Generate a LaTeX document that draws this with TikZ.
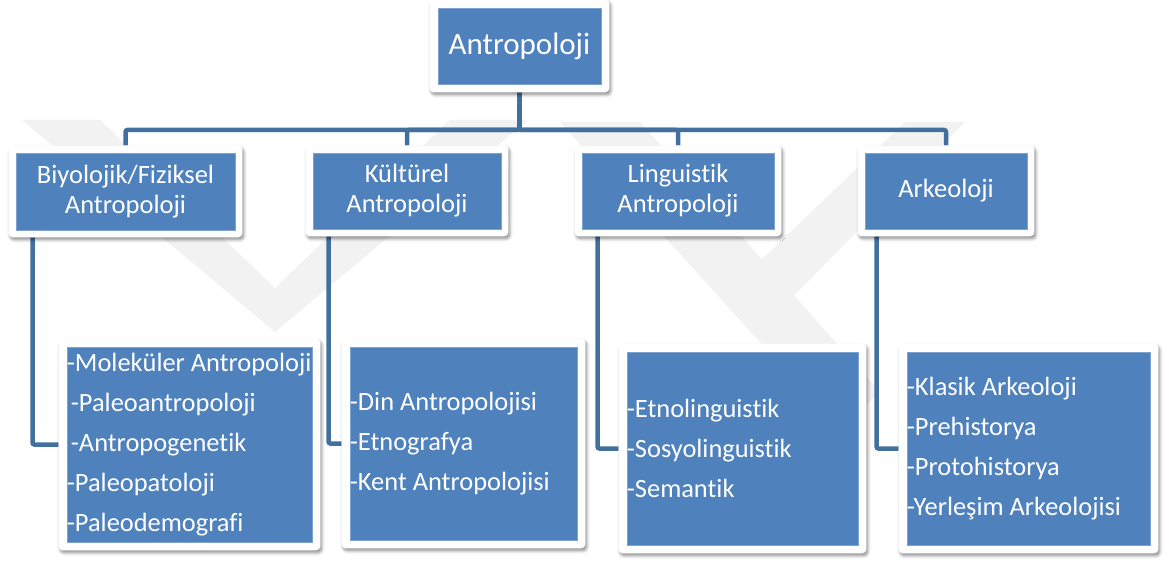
\documentclass[tikz,border=0pt]{standalone}
\usepackage{fontspec}
\setmainfont{Carlito}[Ligatures={NoCommon}]
\usetikzlibrary{positioning,fit,shadows.blur}
\definecolor{boxblue}{HTML}{4F81BD}
\definecolor{boxedge}{HTML}{7FA3D0}
\definecolor{linkblue}{HTML}{41709E}
\definecolor{markgray}{HTML}{F2F2F2}
\pgfdeclarelayer{mark}
\pgfdeclarelayer{links}
\pgfdeclarelayer{frames}
\pgfsetlayers{mark,links,frames,main}
\tikzset{
    box/.style={fill=boxblue, draw=boxedge, line width=0.6pt, text=white, inner sep=0pt, align=center},
    subfont/.style={font=\fontsize{26.5}{30}\selectfont},
    boxframe/.style={fill=white, rounded corners=4pt, inner sep=#1,
        blur shadow={shadow xshift=1.5pt, shadow yshift=-2.5pt, shadow blur steps=6,
            shadow blur radius=3pt, shadow opacity=45}},
    boxframe/.default=8pt,
    link/.style={draw=linkblue, line width=4.5pt, rounded corners=2pt},
    items/.style={text=white, align=left, inner sep=0pt, anchor=west,
        font=\fontsize{26.4}{40}\selectfont},
}

\begin{document}
\begin{tikzpicture}[x=1pt, y=-1pt]
\useasboundingbox (0,0) rectangle (1166,561);

% top
\node[box, minimum width=163pt, minimum height=76pt, font=\fontsize{31}{36}\selectfont]
    (antr) at (519.5,46) {Antropoloji};

% second row
\node[box, subfont, minimum width=219pt, minimum height=77pt] (biyo) at (125.5,191.5) {Biyolojik/Fiziksel\\Antropoloji};
\node[box, subfont, minimum width=188pt, minimum height=76pt] (kult) at (407,191) {Kültürel\\Antropoloji};
\node[box, subfont, minimum width=192pt, minimum height=76pt] (ling) at (678,191) {Linguistik\\Antropoloji};
\node[box, subfont, minimum width=162pt, minimum height=76pt] (arke) at (946,191) {Arkeoloji};

% third row
\node[box, minimum width=245pt, minimum height=195pt] (biyo-alt) at (189.5,444.5) {};
\node[box, minimum width=227pt, minimum height=193pt] (kult-alt) at (463.5,443.5) {};
\node[box, minimum width=231pt, minimum height=193pt] (ling-alt) at (742.5,448.5) {};
\node[box, minimum width=243pt, minimum height=193pt] (arke-alt) at (1028.5,448.5) {};

\node[items] (biyo-txt) at (biyo-alt.west) {-Moleküler Antropoloji\\\hspace*{4pt}-Paleoantropoloji\\\hspace*{4pt}-Antropogenetik\\-Paleopatoloji\\-Paleodemografi};
\node[items] (kult-txt) at (kult-alt.west) {-Din Antropolojisi\\-Etnografya\\-Kent Antropolojisi};
\node[items] (ling-txt) at (ling-alt.west) {-Etnolinguistik\\-Sosyolinguistik\\-Semantik};
\node[items] (arke-txt) at (arke-alt.west) {-Klasik Arkeoloji\\-Prehistorya\\-Protohistorya\\-Yerleşim Arkeolojisi};

% white frames
\begin{pgfonlayer}{frames}
\node[boxframe] (antr-f) [fit=(antr)] {};
\foreach \n in {biyo,kult,ling,arke}{
    \node[boxframe=7pt] (\n-f) [fit=(\n)] {};
    \node[boxframe] (\n-alt-f) [fit=(\n-alt)] {};
}
\end{pgfonlayer}

% connectors
\begin{pgfonlayer}{links}
\coordinate (bar) at (0,130);
\foreach \n in {biyo,kult,ling,arke}
    \draw[link] (antr-f.south) |- (bar -| \n-f.north) -- (\n-f.north);
\foreach \n/\s in {biyo/24,kult/23,ling/23,arke/19}
    \draw[link] ([xshift=\s pt]\n-f.south west) |- (\n-alt-f.west);
\end{pgfonlayer}

% faint watermark
\begin{pgfonlayer}{mark}
\fill[markgray] (22,120) -- (100,120) -- (275,288) -- (450,120) -- (528,120) -- (275,332) -- cycle;
\fill[markgray] (560,122) -- (640,122) -- (880,392) -- (840,430) -- cycle;
\fill[markgray] (905,122) -- (965,122) -- (760,330) -- (725,295) -- cycle;
\end{pgfonlayer}
\end{tikzpicture}
\end{document}
